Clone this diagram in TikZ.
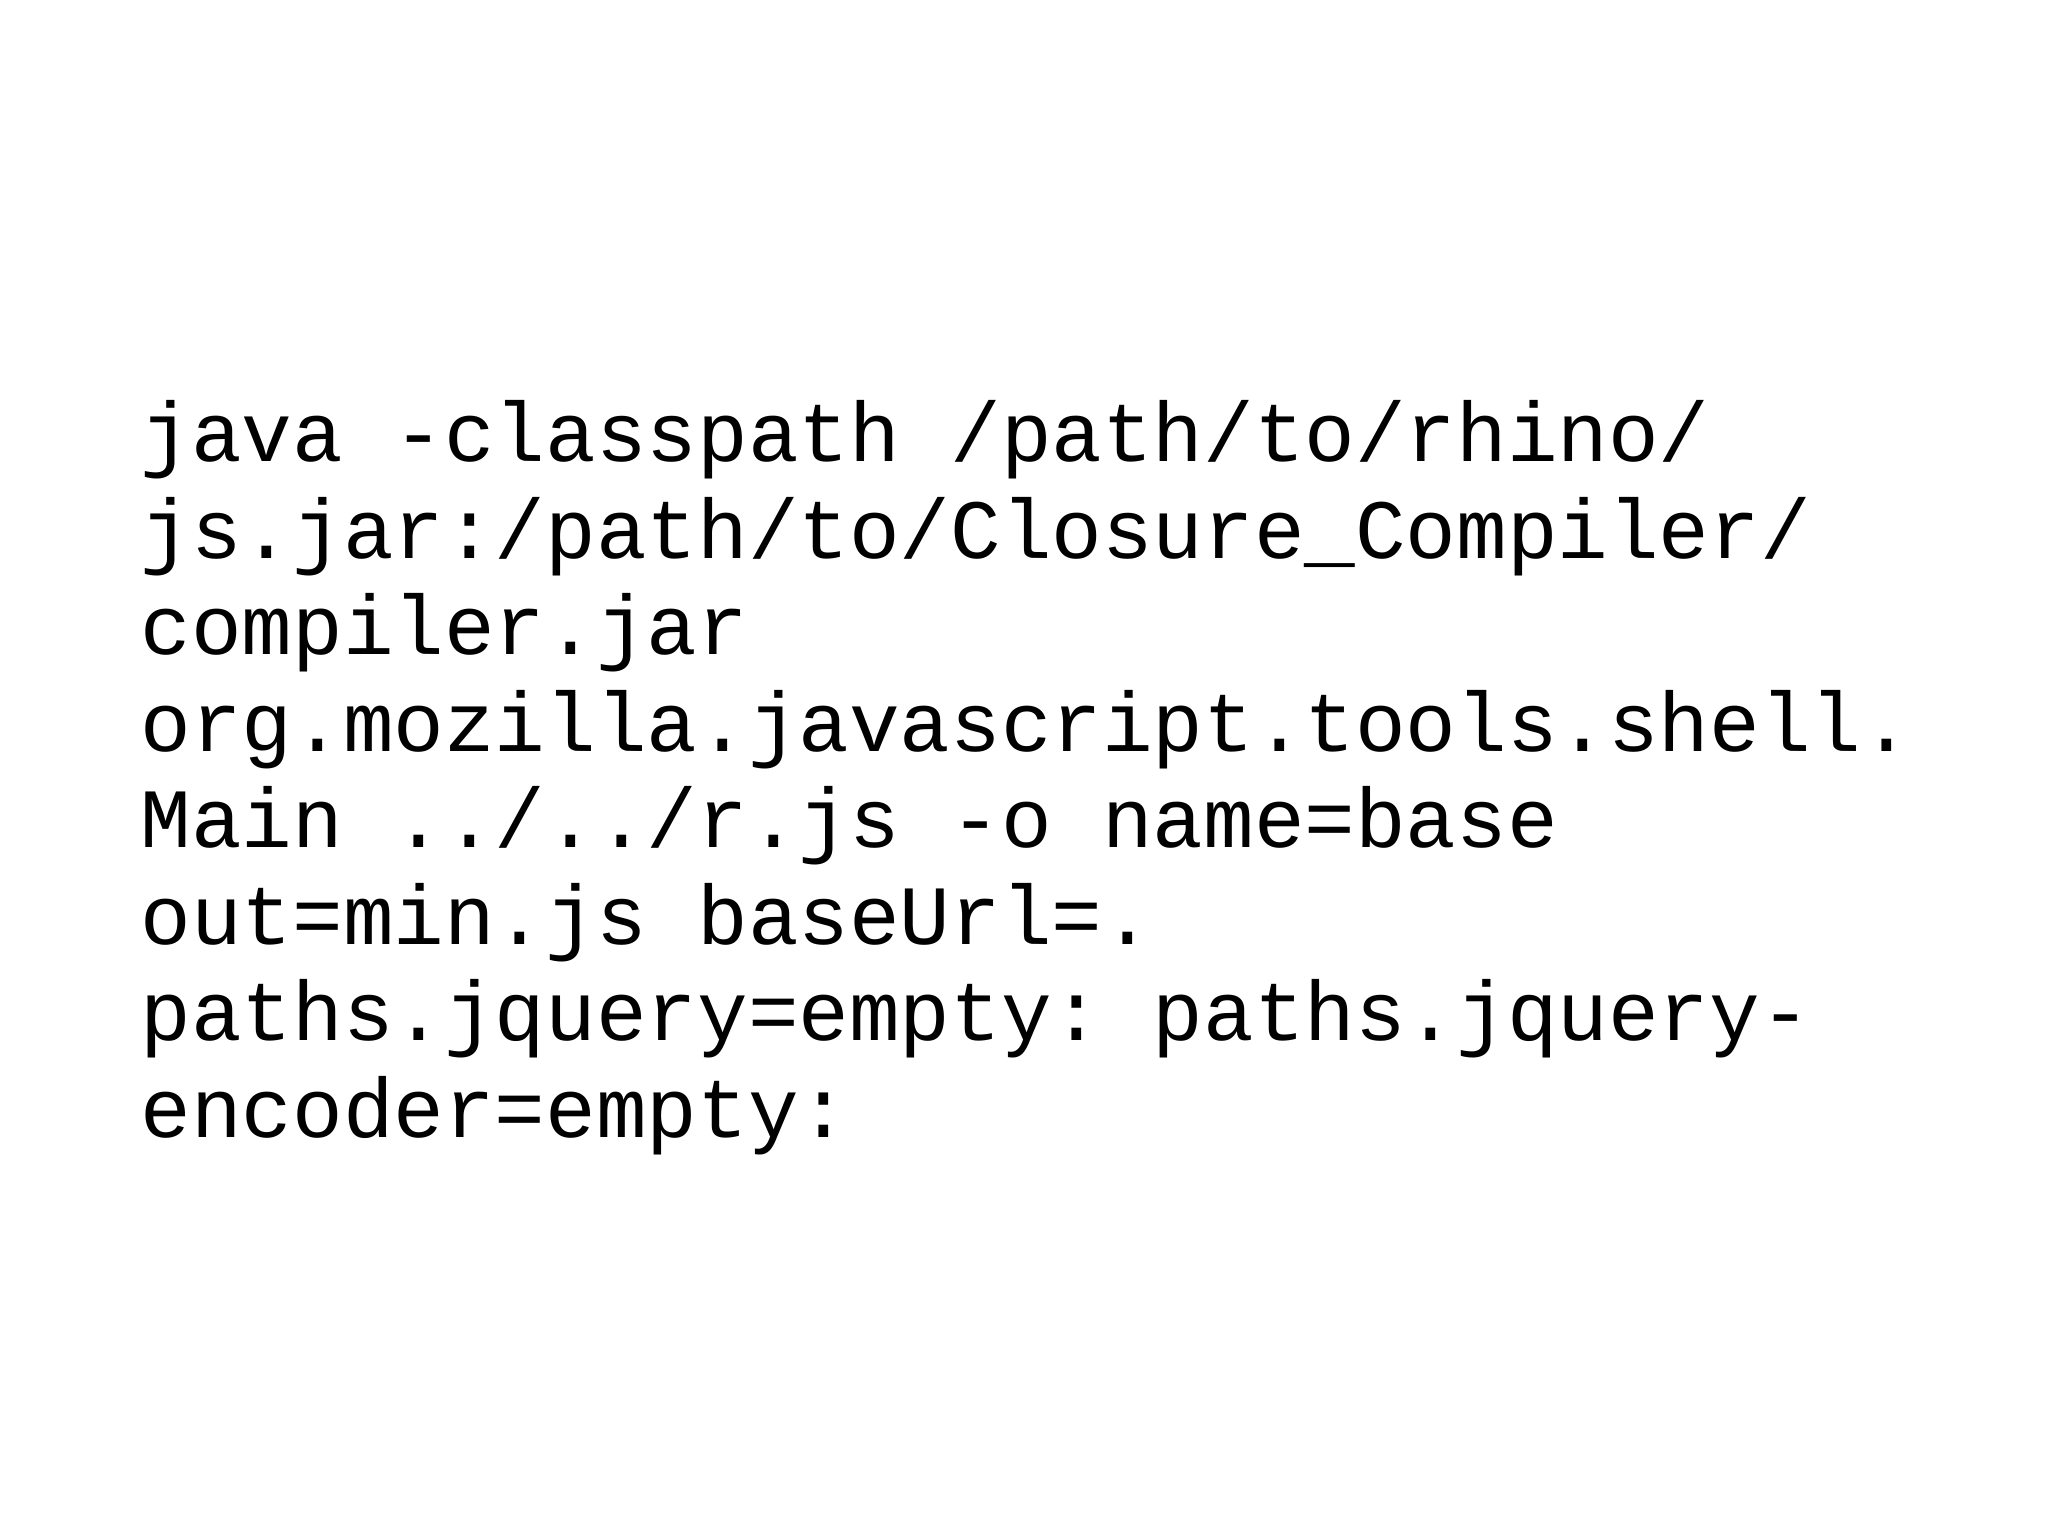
\documentclass[tikz,border=0pt]{standalone}
\usepackage{fontspec}
\setmonofont{Liberation Mono}
\begin{document}
\begin{tikzpicture}
\useasboundingbox (0,0) rectangle (20.48,15.36);
\tikzset{codeline/.style={anchor=base west,inner sep=0pt,font=\ttfamily\fontsize{24pt}{28pt}\selectfont}}
\def\codelines{{"java -classpath /path/to/rhino/","js.jar:/path/to/Closure\_Compiler/","compiler.jar","org.mozilla.javascript.tools.shell.","Main ../../r.js -o name=base","out=min.js baseUrl=.","paths.jquery=empty: paths.jquery-","encoder=empty:"}}
\node[codeline] (l1) at (1.40,10.74) {java -classpath /path/to/rhino/};
\node[codeline] (l2) at (1.40,9.775) {js.jar:/path/to/Closure\_Compiler/};
\node[codeline] (l3) at (1.40,8.81) {compiler.jar};
\node[codeline] (l4) at (1.40,7.845) {org.mozilla.javascript.tools.shell.};
\node[codeline] (l5) at (1.40,6.88) {Main ../../r.js -o name=base};
\node[codeline] (l6) at (1.40,5.915) {out=min.js baseUrl=.};
\node[codeline] (l7) at (1.40,4.95) {paths.jquery=empty: paths.jquery-};
\node[codeline] (l8) at (1.40,3.985) {encoder=empty:};
\end{tikzpicture}
\end{document}
